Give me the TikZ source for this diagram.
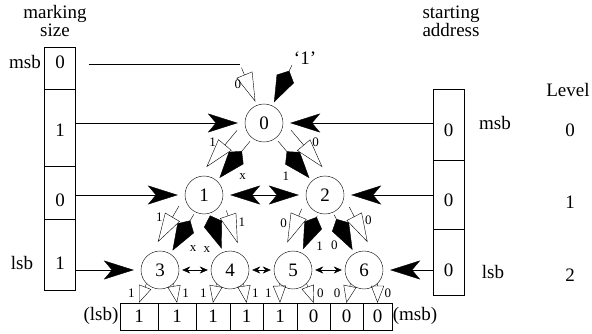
\documentclass[tikz,border=0pt]{standalone}
\usepackage{fontspec}
\setmainfont{Liberation Serif}
\usetikzlibrary{arrows.meta, calc}

\begin{document}
\begin{tikzpicture}[x=1pt, y=-1pt,
  every node/.style={font=\fontsize{19}{18}\selectfont, inner sep=0pt},
  unit/.style={draw, circle, minimum size=38pt},
  cell/.style={draw, minimum width=31pt},
  lbl/.style={font=\fontsize{13}{14}\selectfont},
  >={Stealth[length=30pt,width=19pt,inset=8pt]},
  feed/.style={->, shorten >=7pt},
  openbit/.style={-{Triangle[open,length=29pt,width=17pt]}},
  fillbit/.style={-{Kite[length=35pt,width=19pt,inset=9pt]}},
  smallbit/.style={-{Triangle[open,length=17pt,width=13pt]}},
  sib/.style={{Stealth[length=8pt,width=7pt]}-{Stealth[length=8pt,width=7pt]}, shorten <=3pt, shorten >=3pt}]
  \useasboundingbox (0,0) rectangle (592,334);

  % tree of units
  \node[unit] (n0) at (264,123) {0};
  \node[unit] (n1) at (204,195) {1};
  \node[unit] (n2) at (325,195) {2};
  \node[unit] (n3) at (160,270) {3};
  \node[unit] (n4) at (230,270) {4};
  \node[unit] (n5) at (293,270) {5};
  \node[unit] (n6) at (364,270) {6};

  % marking size register
  \node[align=center] (mstitle) at (55,21) {marking\\size};
  \node[cell, minimum height=42pt] (ms3) at (60,68) {};
  \node[cell, minimum height=77pt] (ms2) at (60,127.5) {};
  \node[cell, minimum height=53pt] (ms1) at (60,192.5) {};
  \node[cell, minimum height=71pt] (ms0) at (60,254.5) {};
  \node (ms3t) at (60,62) {0};
  \node (ms2t) at (60,130) {1};
  \node (ms1t) at (60,200) {0};
  \node (ms0t) at (60,263) {1};
  \node (msmsb) at (25,62) {msb};
  \node (mslsb) at (22,263) {lsb};

  % starting address register
  \node[align=center] (astitle) at (451,21) {starting\\address};
  \node[cell, minimum height=71pt] (as2) at (448.5,124.5) {};
  \node[cell, minimum height=69pt] (as1) at (448.5,194.5) {};
  \node[cell, minimum height=66pt] (as0) at (448.5,262) {};
  \node (as2t) at (448.5,130) {0};
  \node (as1t) at (448.5,200) {0};
  \node (as0t) at (448.5,270) {0};
  \node (asmsb) at (495,123) {msb};
  \node (aslsb) at (493,272) {lsb};

  % levels
  \node (lev) at (568,90) {Level};
  \node (lev0) at (570,130) {0};
  \node (lev1) at (570,202) {1};
  \node (lev2) at (570,275) {2};

  % result register
  \node[cell, minimum width=38pt, minimum height=27pt] (b1) at (139,316.5) {1};
  \node[cell, minimum width=38pt, minimum height=27pt] (b2) at (177,316.5) {1};
  \node[cell, minimum width=34pt, minimum height=27pt] (b3) at (213,316.5) {1};
  \node[cell, minimum width=33pt, minimum height=27pt] (b4) at (246.5,316.5) {1};
  \node[cell, minimum width=34pt, minimum height=27pt] (b5) at (280,316.5) {1};
  \node[cell, minimum width=33pt, minimum height=27pt] (b6) at (313.5,316.5) {0};
  \node[cell, minimum width=33pt, minimum height=27pt] (b7) at (346.5,316.5) {0};
  \node[cell, minimum width=29pt, minimum height=27pt] (b8) at (377.5,316.5) {0};
  \node (blsb) at (101,316) {(lsb)};
  \node (bmsb) at (415,316) {(msb)};

  % inputs to the tree
  \coordinate (msbin) at (240,64);
  \coordinate (asbin) at (292,65);
  \draw ([xshift=13pt]ms3.east |- msbin) -- (msbin);
  \draw[openbit, shorten <=4pt] (msbin) -- ($(n0)!23pt!(msbin)$)
    node[lbl, pos=0.55, left=7pt] (in0) {0};
  \draw[fillbit] (asbin) -- ($(n0)!23pt!(asbin)$);
  \node (in1) at (305,58) {`1'};
  \draw[feed] (ms2.east |- n0) -- (n0);
  \draw[feed] (ms1.east |- n1) -- (n1);
  \draw[feed] (ms0.east |- n3) -- (n3);
  \draw[feed] (as2.west |- n0) -- (n0);
  \draw[feed] (as1.west |- n2) -- (n2);
  \draw[feed] (as0.west |- n6) -- (n6);
  \draw[<->, shorten <=7pt, shorten >=7pt] (n1) -- (n2);
  \draw[sib] (n3) -- (n4);
  \draw[sib] (n4) -- (n5);
  \draw[sib] (n5) -- (n6);

  % level 0 to level 1
  \draw[openbit] ($(n0)!23pt!(n1)!16pt!-90:(n1)$) -- ($(n1)!23pt!(n0)!16pt!90:(n0)$);
  \draw[fillbit] ($(n0)!23pt!(n1)!1pt!90:(n1)$) -- ($(n1)!23pt!(n0)!1pt!-90:(n0)$);
  \node[lbl] (e1o) at ($(n0)!48pt!(n1)!27pt!-90:(n1)$) {1};
  \node[lbl] (e1f) at ($(n0)!55pt!(n1)!18pt!90:(n1)$) {x};
  \draw[openbit] ($(n0)!23pt!(n2)!16pt!90:(n2)$) -- ($(n2)!23pt!(n0)!16pt!-90:(n0)$);
  \draw[fillbit] ($(n0)!23pt!(n2)!1pt!-90:(n2)$) -- ($(n2)!23pt!(n0)!1pt!90:(n0)$);
  \node[lbl] (e2o) at ($(n0)!48pt!(n2)!27pt!90:(n2)$) {0};
  \node[lbl] (e2f) at ($(n0)!55pt!(n2)!18pt!-90:(n2)$) {1};

  % level 1 to level 2
  \draw[openbit] ($(n1)!22pt!(n3)!16pt!-90:(n3)$) -- ($(n3)!23pt!(n1)!16pt!90:(n1)$);
  \draw[fillbit] ($(n1)!22pt!(n3)!1pt!90:(n3)$) -- ($(n3)!23pt!(n1)!1pt!-90:(n1)$);
  \node[lbl] (e3o) at ($(n1)!42pt!(n3)!27pt!-90:(n3)$) {1};
  \node[lbl] (e3f) at ($(n1)!52pt!(n3)!18pt!90:(n3)$) {x};
  \draw[openbit] ($(n1)!22pt!(n4)!16pt!90:(n4)$) -- ($(n4)!23pt!(n1)!16pt!-90:(n1)$);
  \draw[fillbit] ($(n1)!22pt!(n4)!1pt!-90:(n4)$) -- ($(n4)!23pt!(n1)!1pt!90:(n1)$);
  \node[lbl] (e4o) at ($(n1)!38pt!(n4)!27pt!90:(n4)$) {1};
  \node[lbl] (e4f) at ($(n1)!52pt!(n4)!15pt!-90:(n4)$) {x};
  \draw[openbit] ($(n2)!22pt!(n5)!16pt!-90:(n5)$) -- ($(n5)!23pt!(n2)!16pt!90:(n2)$);
  \draw[fillbit] ($(n2)!22pt!(n5)!1pt!90:(n5)$) -- ($(n5)!23pt!(n2)!1pt!-90:(n2)$);
  \node[lbl] (e5o) at ($(n2)!42pt!(n5)!27pt!-90:(n5)$) {0};
  \node[lbl] (e5f) at ($(n2)!49pt!(n5)!15pt!90:(n5)$) {1};
  \draw[openbit] ($(n2)!22pt!(n6)!16pt!90:(n6)$) -- ($(n6)!23pt!(n2)!16pt!-90:(n2)$);
  \draw[fillbit] ($(n2)!22pt!(n6)!1pt!-90:(n6)$) -- ($(n6)!23pt!(n2)!1pt!90:(n2)$);
  \node[lbl] (e6o) at ($(n2)!42pt!(n6)!27pt!90:(n6)$) {0};
  \node[lbl] (e6f) at ($(n2)!49pt!(n6)!15pt!-90:(n6)$) {0};

  % level 2 to result register
  \draw[smallbit] (n3.225) -- (b1.north) node[lbl, pos=0.5, left=8pt] (r1) {1};
  \draw[smallbit] (n3.315) -- (b2.north) node[lbl, pos=0.5, right=7pt] (r2) {1};
  \draw[smallbit] (n4.225) -- (b3.north) node[lbl, pos=0.5, left=8pt] (r3) {1};
  \draw[smallbit] (n4.315) -- (b4.north) node[lbl, pos=0.5, right=7pt] (r4) {1};
  \draw[smallbit] (n5.225) -- (b5.north) node[lbl, pos=0.5, left=8pt] (r5) {1};
  \draw[smallbit] (n5.315) -- (b6.north) node[lbl, pos=0.5, right=7pt] (r6) {0};
  \draw[smallbit] (n6.225) -- (b7.north) node[lbl, pos=0.5, left=8pt] (r7) {0};
  \draw[smallbit] (n6.315) -- (b8.north) node[lbl, pos=0.5, right=7pt] (r8) {0};
\end{tikzpicture}
\end{document}
